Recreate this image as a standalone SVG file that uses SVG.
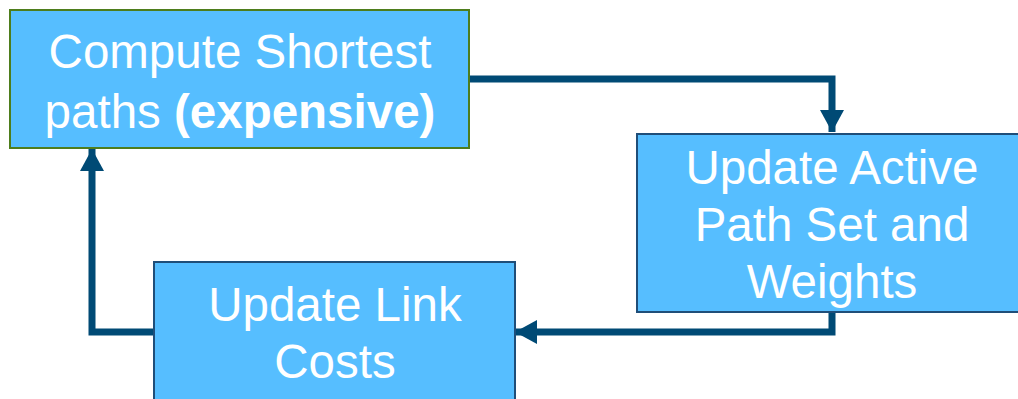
<svg xmlns="http://www.w3.org/2000/svg" width="1018" height="399" viewBox="0 0 1018 399">
<defs>
<style>
.box{fill:#56BEFF;stroke-width:2}
text{font-family:'Liberation Sans',Arial,Helvetica,sans-serif;font-size:47.5px;fill:#fff;text-anchor:middle}
.c{fill:none;stroke:#004A75;stroke-width:7}
</style>
<marker id="ah" markerUnits="userSpaceOnUse" markerWidth="24" markerHeight="24" refX="22" refY="12" orient="auto">
<path d="M0,0 L22,12 L0,24 Z" fill="#004A75"/>
</marker>
</defs>
<rect width="1018" height="399" fill="#fff"/>
<g id="connectors">
<path class="c" d="M469,79 H832 V132" marker-end="url(#ah)"/>
<path class="c" d="M832,312 V332 H515" marker-end="url(#ah)"/>
<path class="c" d="M153,332 H92 V149" marker-end="url(#ah)"/>
</g>
<g id="compute">
<rect class="box" x="10" y="10" width="459" height="138" stroke="#4E7D1C"/>
<text x="240" y="68">Compute Shortest</text>
<text x="240" y="128">paths <tspan font-weight="bold">(expensive)</tspan></text>
</g>
<g id="active">
<rect class="box" x="637" y="134" width="390" height="178" stroke="#1F4E79"/>
<text x="832" y="184">Update Active</text>
<text x="832" y="241">Path Set and</text>
<text x="832" y="298">Weights</text>
</g>
<g id="link">
<rect class="box" x="154" y="262" width="361" height="150" stroke="#1F4E79"/>
<text x="335" y="321">Update Link</text>
<text x="335" y="378">Costs</text>
</g>
</svg>
